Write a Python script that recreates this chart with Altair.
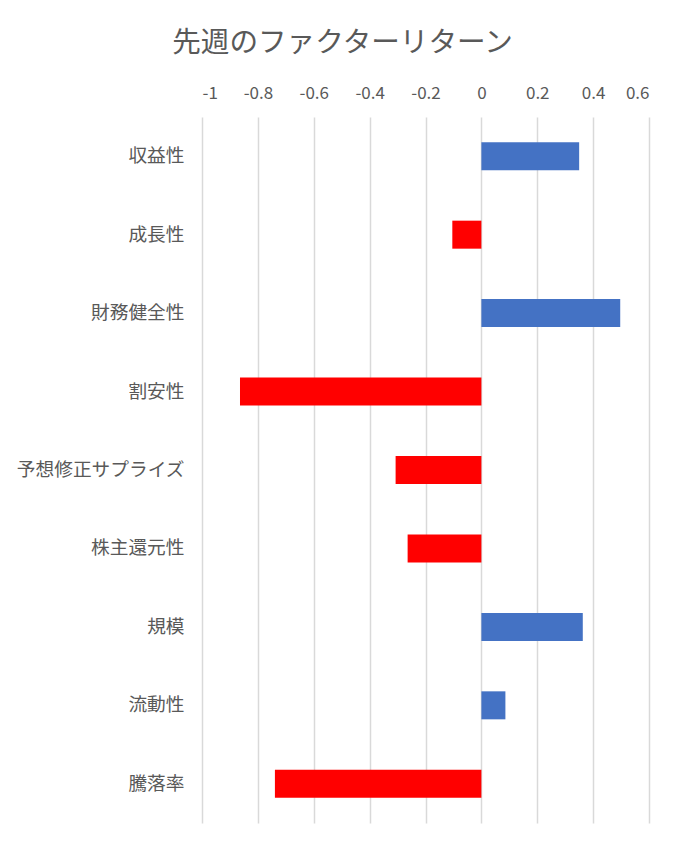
import altair as alt
import pandas as pd

categories = ["収益性", "成長性", "財務健全性", "割安性", "予想修正サプライズ",
              "株主還元性", "規模", "流動性", "騰落率"]
values = [0.35, -0.104, 0.497, -0.864, -0.307, -0.264, 0.363, 0.086, -0.739]
tick_values = [-1, -0.8, -0.6, -0.4, -0.2, 0, 0.2, 0.4, 0.6]

df = pd.DataFrame({"factor": categories, "value": values})
df["sign"] = ["pos" if v >= 0 else "neg" for v in values]

FONT = "Noto Sans CJK JP"
GREY = "#595959"

chart = alt.Chart(df).mark_bar().encode(
    x=alt.X("value:Q",
            scale=alt.Scale(domain=[-1, 0.6], nice=False, zero=False),
            axis=alt.Axis(orient="top", values=tick_values, title=None,
                          labelExpr="datum.value < 0 ? '-' + format(-datum.value, '~g') : format(datum.value, '~g')",
                          ticks=False, domain=False, grid=True,
                          gridColor="#d9d9d9", gridWidth=1.5,
                          labelFont=FONT, labelFontSize=17, labelColor=GREY,
                          labelPadding=15)),
    y=alt.Y("factor:N", sort=categories,
            scale=alt.Scale(paddingInner=0.643, paddingOuter=0.3215),
            axis=alt.Axis(title=None, ticks=False, domain=False, grid=False,
                          labelFont=FONT, labelFontSize=18.7, labelColor=GREY,
                          labelPadding=18, labelLimit=250)),
    color=alt.Color("sign:N",
                    scale=alt.Scale(domain=["pos", "neg"], range=["#4472C4", "#FF0000"]),
                    legend=None),
).properties(
    width=447,
    height=706,
    autosize=alt.AutoSizeParams(type="none"),
    padding={"left": 194, "top": 109, "right": 28, "bottom": 17},
    title=alt.TitleParams("先週のファクターリターン", font=FONT, fontSize=28.6,
                          fontWeight="normal", color=GREY, anchor="middle",
                          frame="group", dx=-83, offset=26),
).configure(background="white").configure_view(stroke=None)

chart.save("out.html", embed_options={"renderer": "svg", "actions": False})
